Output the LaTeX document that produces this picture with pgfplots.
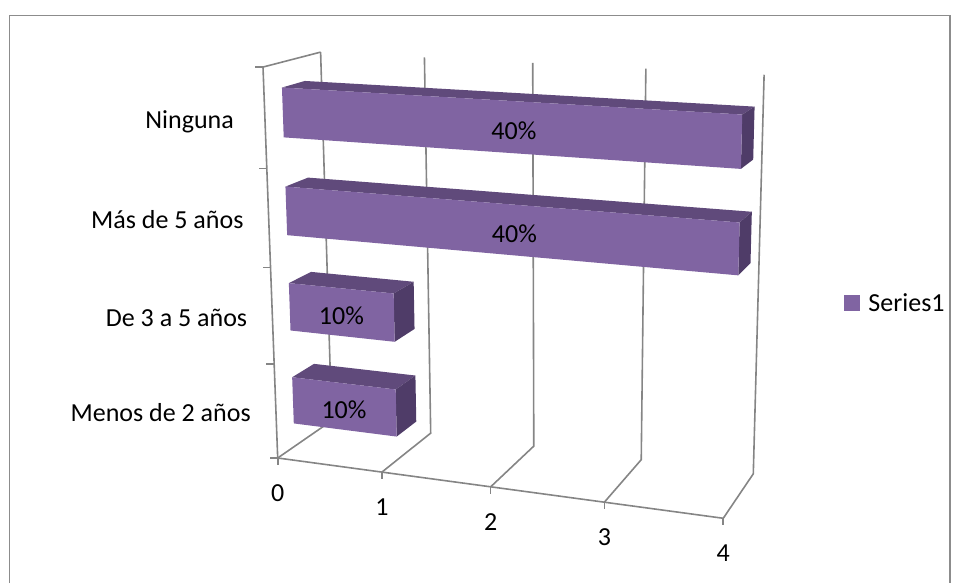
\documentclass[border=0pt]{standalone}
\usepackage{pgfplots}
\pgfplotsset{compat=1.18}
\usepackage{fontspec}
\setmainfont{Carlito}

\definecolor{barfront}{HTML}{8064A2}
\definecolor{bartop}{HTML}{604A7B}
\definecolor{barside}{HTML}{4F3C68}
\definecolor{gridgray}{HTML}{858585}
\definecolor{framegray}{HTML}{8C8C8C}

\newcommand{\chartfont}{\fontsize{26}{31}\selectfont}

% perspective divide: every (X,Y,Z) is scaled by 1/(1 + wx X + wy Y + wz Z)
\newcommand{\pdiv}{(1-0.02107*\thisrow{X}+0.0629*\thisrow{Y}-0.01263*\thisrow{Z})}
\pgfplotsset{
  /pgfplots/table/persp/.style={row sep=\\,
    x expr={\thisrow{X}/\pdiv},
    y expr={\thisrow{Y}/\pdiv},
    z expr={\thisrow{Z}/\pdiv}},
  gridline/.style={draw=gridgray, line width=1.6pt, mark=none, forget plot},
}

\pgfdeclareplotmark{tickdown}{\pgfpathmoveto{\pgfqpoint{0pt}{0pt}}%
  \pgfpathlineto{\pgfqpoint{0pt}{-7pt}}\pgfusepathqstroke}
\pgfdeclareplotmark{tickleft}{\pgfpathmoveto{\pgfqpoint{0pt}{0pt}}%
  \pgfpathlineto{\pgfqpoint{-8pt}{0pt}}\pgfusepathqstroke}

% one 3-D bar: #1 lower edge, #2 upper edge (category axis), #3 value, #4 label
\newcommand{\cuboidbar}[4]{%
  \addplot3[draw=none, fill=bartop, forget plot] table[persp]
    {X Y Z\\ 0 0.3 #2\\ #3 0.3 #2\\ #3 0.7 #2\\ 0 0.7 #2\\};
  \addplot3[draw=none, fill=barside, forget plot] table[persp]
    {X Y Z\\ #3 0.3 #1\\ #3 0.7 #1\\ #3 0.7 #2\\ #3 0.3 #2\\};
  \addplot3[draw=none, fill=barfront, forget plot] table[persp]
    {X Y Z\\ 0 0.3 #1\\ #3 0.3 #1\\ #3 0.3 #2\\ 0 0.3 #2\\};
  % label in the middle of the (projected) front face
  \pgfmathsetmacro{\lx}{0.535*#3-0.035}%
  \pgfmathsetmacro{\lz}{#1+0.25}%
  \pgfmathsetmacro{\ld}{1-0.02107*\lx+0.0629*0.3-0.01263*\lz}%
  \pgfmathsetmacro{\lxp}{\lx/\ld}%
  \pgfmathsetmacro{\lyp}{0.3/\ld}%
  \pgfmathsetmacro{\lzp}{\lz/\ld}%
  \edef\barlabel{\noexpand\node[font=\noexpand\chartfont, inner sep=0pt, yshift=-3.4pt]
    at (axis cs:\lxp,\lyp,\lzp) {\unexpanded{#4}};}%
  \barlabel
}

\begin{document}
\begin{tikzpicture}
\useasboundingbox (0,0) rectangle (957pt,583pt);
\draw[framegray, line width=1.3pt] (9.3pt,0pt) -- (9.3pt,567.3pt) -- (950pt,567.3pt) -- (950pt,0pt);

\begin{axis}[
  at={(277.7pt,125pt)}, anchor=origin,
  x={(102pt,-13.8pt)}, y={(57.4pt,39.7pt)}, z={(-3.49pt,92.8pt)},
  xmin=0, xmax=4.4, ymin=0, ymax=1, zmin=0, zmax=4.25,
  axis lines*=left, axis line style={draw=none},
  xtick={0,1.02152,2.08799,3.20242,4.36815}, xticklabels={0,1,2,3,4},
  ytick=\empty,
  ztick={0.50318,1.52896,2.58150,3.66185},
  zticklabels={Menos de 2 años, De 3 a 5 años, Más de 5 años, \mbox{Ninguna\ }},
  major tick length=0pt, tick style={draw=none},
  ticklabel style={font=\chartfont, inner sep=0pt},
  xticklabel style={anchor=center, yshift=-35pt},
  zticklabel style={anchor=base east, xshift=-25pt, yshift=-10pt},
  clip=false,
]
% floor and back-wall grid
\pgfplotsinvokeforeach{0,1,2,3,4}{
  \addplot3[gridline] table[persp] {X Y Z\\ #1 0 0\\ #1 1 0\\ #1 1 4\\};
}
% side wall edges and front edge of the floor
\addplot3[gridline] table[persp] {X Y Z\\ 0 0 0\\ 0 0 4\\ 0 1 4\\};
\addplot3[gridline] table[persp] {X Y Z\\ 0 0 0\\ 4 0 0\\};
% tick marks
\addplot3[only marks, mark=tickdown, mark options={draw=gridgray, line width=1.6pt}, forget plot]
  table[persp] {X Y Z\\ 0 0 0\\ 1 0 0\\ 2 0 0\\ 3 0 0\\ 4 0 0\\};
\addplot3[only marks, mark=tickleft, mark options={draw=gridgray, line width=1.6pt}, forget plot]
  table[persp] {X Y Z\\ 0 0 0\\ 0 0 1\\ 0 0 2\\ 0 0 3\\ 0 0 4\\};
% bars, from the top category down
\cuboidbar{3.25}{3.75}{4}{40\%}
\cuboidbar{2.25}{2.75}{4}{40\%}
\cuboidbar{1.25}{1.75}{1}{10\%}
\cuboidbar{0.25}{0.75}{1}{10\%}
\end{axis}

% legend
\begin{axis}[
  at={(0pt,0pt)}, anchor=south west,
  width=957pt, height=583pt, scale only axis, hide axis,
  xmin=0, xmax=957, ymin=0, ymax=583,
  legend style={at={(0.8819,0.4803)}, anchor=west, draw=none, fill=none,
    inner sep=0pt, font=\chartfont, legend cell align=left},
  legend image code/.code={\fill[barfront] (0pt,-7.5pt) rectangle (15pt,7.5pt);
    \path[draw=none, fill=none] (0pt,-1pt) rectangle (22pt,1pt);},
]
\addlegendimage{}
\addlegendentry{Series1}
\end{axis}
\end{tikzpicture}
\end{document}
